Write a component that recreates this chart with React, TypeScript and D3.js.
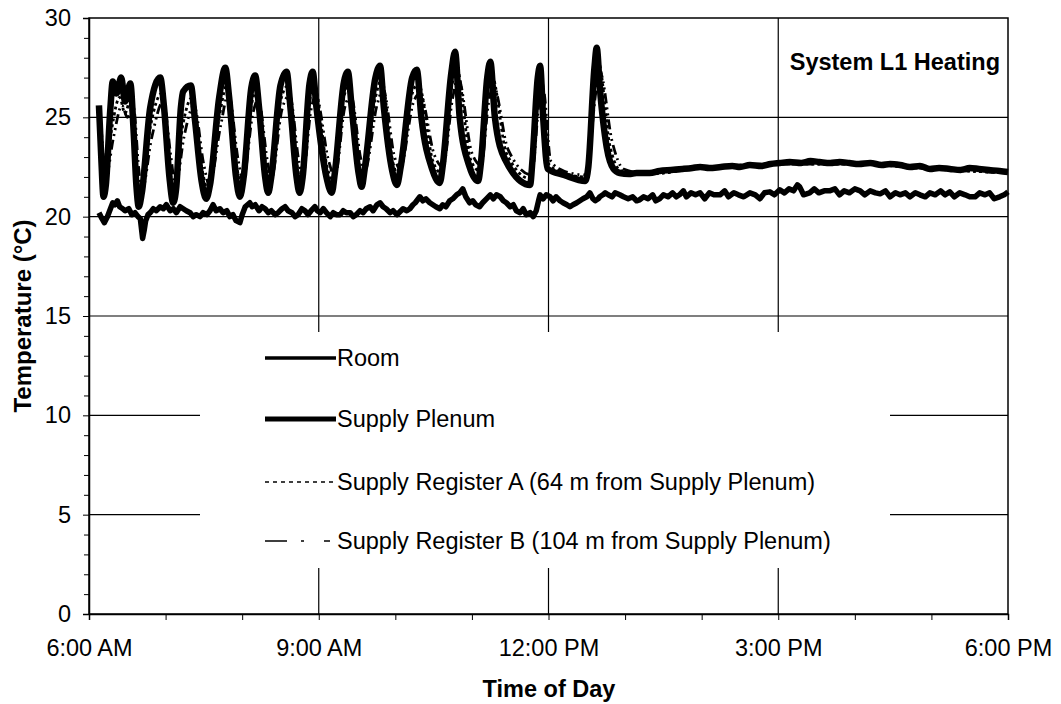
import React, { useEffect, useRef } from 'react';
import * as d3 from 'd3';

// time of day in decimal hours, temperature in °C
const plenum: [number, number][] = [
  [6.13, 25.6], [6.16, 23.0], [6.19, 21.0], [6.22, 21.6], [6.28, 25.5], [6.31, 26.8], [6.36, 26.2], [6.42, 27.0],
  [6.47, 25.8], [6.54, 26.7], [6.58, 24.5], [6.62, 21.5], [6.65, 20.5], [6.69, 21.2], [6.80, 25.5], [6.93, 27.0],
  [6.98, 25.5], [7.05, 22.0], [7.10, 20.7], [7.14, 21.5], [7.20, 25.5], [7.23, 26.3], [7.33, 26.6], [7.38, 25.0],
  [7.47, 21.8], [7.53, 20.9], [7.58, 21.6], [7.70, 26.0], [7.78, 27.5], [7.83, 26.0], [7.92, 22.0], [7.97, 21.0],
  [8.02, 22.0], [8.12, 26.5], [8.17, 27.1], [8.22, 25.5], [8.30, 22.0], [8.34, 21.2], [8.38, 22.0], [8.50, 26.6],
  [8.58, 27.3], [8.63, 25.5], [8.71, 22.0], [8.75, 21.2], [8.79, 22.0], [8.88, 26.7], [8.92, 27.3], [8.97, 25.5],
  [9.10, 22.0], [9.17, 21.2], [9.21, 22.2], [9.33, 26.8], [9.38, 27.3], [9.43, 25.5], [9.52, 22.2], [9.56, 21.5],
  [9.60, 22.4], [9.74, 27.0], [9.80, 27.6], [9.85, 25.5], [9.96, 22.3], [10.02, 21.6], [10.07, 22.5], [10.22, 27.0],
  [10.28, 27.4], [10.34, 25.0], [10.48, 22.4], [10.58, 21.7], [10.62, 22.6], [10.73, 27.2], [10.78, 28.3], [10.84, 25.0],
  [10.97, 22.5], [11.08, 21.8], [11.12, 22.8], [11.20, 27.0], [11.24, 27.8], [11.30, 25.0], [11.43, 22.9], [11.76, 21.6],
  [11.79, 22.8], [11.86, 27.0], [11.89, 27.6], [11.93, 25.0], [11.99, 22.4], [12.20, 22.1], [12.48, 21.8], [12.52, 22.5],
  [12.60, 27.5], [12.63, 28.5], [12.67, 26.5], [12.76, 23.5], [12.85, 22.4], [12.93, 22.2], [13.05, 22.15], [13.15, 22.2],
  [13.32, 22.2], [13.45, 22.3], [13.60, 22.35], [13.75, 22.4], [13.88, 22.45], [13.98, 22.5], [14.10, 22.45], [14.25, 22.5],
  [14.40, 22.55], [14.50, 22.5], [14.63, 22.6], [14.78, 22.55], [14.90, 22.65], [15.02, 22.7], [15.15, 22.75], [15.30, 22.7],
  [15.42, 22.8], [15.54, 22.75], [15.68, 22.7], [15.80, 22.75], [15.93, 22.7], [16.05, 22.65], [16.20, 22.7], [16.35, 22.6],
  [16.46, 22.65], [16.59, 22.6], [16.72, 22.5], [16.85, 22.55], [16.98, 22.4], [17.10, 22.45], [17.24, 22.4], [17.38, 22.35],
  [17.50, 22.45], [17.62, 22.4], [17.75, 22.35], [17.89, 22.3], [18.0, 22.25],
];

const registerA: [number, number][] = [
  [6.15, 25.0], [6.20, 21.6], [6.30, 24.5], [6.40, 26.0], [6.47, 25.2], [6.55, 26.0], [6.63, 22.0], [6.67, 21.0],
  [6.80, 24.5], [6.95, 26.2], [7.05, 22.6], [7.11, 21.2], [7.22, 24.5], [7.35, 26.0], [7.48, 22.3], [7.55, 21.4],
  [7.70, 25.0], [7.80, 26.6], [7.93, 22.5], [7.99, 21.5], [8.12, 25.6], [8.19, 26.4], [8.31, 22.5], [8.36, 21.6],
  [8.50, 25.8], [8.60, 26.6], [8.72, 22.5], [8.77, 21.7], [8.88, 25.8], [8.94, 26.6], [9.11, 22.5], [9.19, 21.7],
  [9.32, 25.9], [9.40, 26.6], [9.53, 22.6], [9.58, 22.0], [9.74, 26.0], [9.82, 26.9], [9.97, 22.7], [10.04, 22.1],
  [10.22, 26.2], [10.30, 26.7], [10.49, 22.8], [10.60, 22.2], [10.73, 26.4], [10.80, 27.5], [10.98, 22.9], [11.10, 22.3],
  [11.20, 26.2], [11.26, 27.1], [11.45, 23.2], [11.77, 21.9], [11.86, 26.2], [11.91, 26.9], [12.01, 22.6], [12.20, 22.2],
  [12.48, 22.0], [12.60, 26.8], [12.65, 27.8], [12.80, 23.6], [12.95, 22.3], [13.3, 22.15], [14.0, 22.45], [15.0, 22.65],
  [16.0, 22.65], [17.0, 22.4], [18.0, 22.2],
];

const registerB: [number, number][] = [
  [6.16, 24.5], [6.22, 22.0], [6.32, 24.0], [6.43, 25.6], [6.50, 25.0], [6.58, 25.5], [6.65, 22.4], [6.69, 21.3],
  [6.82, 24.0], [6.97, 25.8], [7.07, 23.0], [7.13, 21.5], [7.24, 24.0], [7.37, 25.6], [7.50, 22.6], [7.57, 21.6],
  [7.72, 24.6], [7.82, 26.2], [7.95, 22.8], [8.01, 21.8], [8.14, 25.2], [8.21, 25.9], [8.33, 22.8], [8.38, 21.9],
  [8.52, 25.4], [8.62, 26.1], [8.74, 22.8], [8.79, 22.0], [8.90, 25.4], [8.96, 26.1], [9.13, 22.8], [9.21, 22.0],
  [9.34, 25.5], [9.42, 26.1], [9.55, 22.9], [9.60, 22.3], [9.76, 25.6], [9.84, 26.4], [9.99, 23.0], [10.06, 22.4],
  [10.24, 25.8], [10.32, 26.2], [10.51, 23.1], [10.62, 22.5], [10.75, 26.0], [10.82, 27.0], [11.00, 23.2], [11.12, 22.6],
  [11.22, 25.8], [11.28, 26.6], [11.47, 23.4], [11.78, 22.1], [11.88, 25.8], [11.93, 26.4], [12.03, 22.8], [12.20, 22.3],
  [12.49, 22.1], [12.62, 26.3], [12.67, 27.3], [12.83, 23.8], [12.98, 22.4], [13.3, 22.15], [14.0, 22.45], [15.0, 22.65],
  [16.0, 22.65], [17.0, 22.4], [18.0, 22.2],
];

const room: [number, number][] = [
  [6.13, 20.2], [6.17, 19.9], [6.20, 19.7], [6.24, 20.0], [6.27, 20.3], [6.31, 20.7], [6.34, 20.6], [6.37, 20.8],
  [6.40, 20.5], [6.44, 20.4], [6.47, 20.3], [6.52, 20.4], [6.56, 20.1], [6.60, 20.2], [6.64, 20.0], [6.67, 19.9],
  [6.70, 18.9], [6.72, 19.3], [6.74, 19.8], [6.77, 20.1], [6.80, 20.2], [6.84, 20.4], [6.88, 20.3], [6.93, 20.5],
  [6.97, 20.4], [7.01, 20.6], [7.06, 20.3], [7.10, 20.4], [7.14, 20.2], [7.19, 20.5], [7.23, 20.4], [7.27, 20.3],
  [7.32, 20.2], [7.36, 20.0], [7.40, 20.1], [7.45, 20.0], [7.49, 20.2], [7.54, 20.1], [7.58, 20.3], [7.62, 20.6],
  [7.66, 20.3], [7.71, 20.4], [7.75, 20.2], [7.80, 20.3], [7.84, 20.0], [7.88, 20.1], [7.92, 19.8], [7.97, 19.7],
  [8.00, 20.1], [8.04, 20.5], [8.10, 20.7], [8.13, 20.5], [8.17, 20.6], [8.22, 20.3], [8.26, 20.5], [8.30, 20.4],
  [8.34, 20.2], [8.38, 20.3], [8.43, 20.1], [8.47, 20.2], [8.52, 20.4], [8.56, 20.5], [8.60, 20.3], [8.65, 20.2],
  [8.69, 20.0], [8.73, 20.1], [8.78, 20.4], [8.82, 20.3], [8.86, 20.1], [8.90, 20.3], [8.95, 20.5], [8.98, 20.3],
  [9.02, 20.2], [9.06, 20.4], [9.10, 20.2], [9.15, 20.0], [9.19, 20.2], [9.23, 20.1], [9.28, 20.1], [9.32, 20.3],
  [9.36, 20.2], [9.41, 20.2], [9.45, 20.0], [9.49, 20.1], [9.54, 20.3], [9.58, 20.2], [9.62, 20.4], [9.67, 20.5],
  [9.71, 20.3], [9.76, 20.6], [9.80, 20.7], [9.84, 20.5], [9.88, 20.4], [9.93, 20.2], [9.97, 20.3], [10.02, 20.1],
  [10.06, 20.25], [10.10, 20.4], [10.15, 20.3], [10.19, 20.4], [10.23, 20.6], [10.26, 20.7], [10.30, 20.9], [10.32, 21.0],
  [10.36, 20.8], [10.40, 20.9], [10.45, 20.7], [10.49, 20.6], [10.53, 20.5], [10.58, 20.4], [10.62, 20.6], [10.66, 20.5],
  [10.71, 20.8], [10.75, 20.9], [10.80, 21.1], [10.84, 21.2], [10.88, 21.4], [10.92, 21.0], [10.97, 20.7], [11.01, 20.8],
  [11.05, 20.6], [11.10, 20.5], [11.14, 20.7], [11.19, 20.9], [11.24, 21.1], [11.28, 20.9], [11.32, 21.1], [11.37, 21.0],
  [11.41, 20.8], [11.45, 20.7], [11.50, 20.5], [11.54, 20.6], [11.58, 20.3], [11.63, 20.2], [11.67, 20.4], [11.71, 20.1],
  [11.76, 20.2], [11.80, 20.0], [11.84, 20.3], [11.87, 20.8], [11.89, 21.1], [11.93, 20.9], [11.97, 21.1], [12.02, 21.0],
  [12.06, 20.8], [12.10, 21.0], [12.15, 20.8], [12.19, 20.7], [12.24, 20.6], [12.28, 20.5], [12.32, 20.6], [12.37, 20.7],
  [12.41, 20.8], [12.45, 20.9], [12.50, 21.0], [12.54, 21.2], [12.58, 20.9], [12.61, 20.8], [12.65, 20.9], [12.67, 21.0],
  [12.71, 21.1], [12.74, 21.2], [12.78, 21.1], [12.83, 21.0], [12.87, 21.2], [12.93, 21.1], [12.98, 21.0], [13.04, 20.9],
  [13.10, 21.0], [13.15, 20.8], [13.19, 20.85], [13.24, 21.0], [13.30, 20.9], [13.36, 21.1], [13.40, 20.8], [13.45, 20.9],
  [13.50, 21.1], [13.56, 21.0], [13.62, 21.2], [13.67, 21.0], [13.71, 21.1], [13.76, 21.3], [13.80, 21.0], [13.86, 21.2],
  [13.92, 21.1], [13.98, 21.2], [14.04, 20.9], [14.10, 21.2], [14.16, 21.1], [14.24, 21.1], [14.30, 21.3], [14.35, 21.0],
  [14.42, 21.2], [14.48, 21.1], [14.55, 21.0], [14.63, 21.2], [14.70, 21.1], [14.76, 20.9], [14.82, 21.2], [14.89, 21.25],
  [14.95, 21.1], [15.02, 21.35], [15.08, 21.2], [15.14, 21.4], [15.20, 21.3], [15.25, 21.6], [15.28, 21.5], [15.33, 21.1],
  [15.41, 21.2], [15.47, 21.4], [15.53, 21.2], [15.60, 21.3], [15.67, 21.3], [15.74, 21.4], [15.80, 21.1], [15.86, 21.3],
  [15.93, 21.2], [16.00, 21.4], [16.07, 21.3], [16.13, 21.1], [16.20, 21.3], [16.27, 21.2], [16.33, 21.15], [16.40, 21.3],
  [16.46, 21.0], [16.53, 21.2], [16.59, 21.1], [16.66, 21.2], [16.72, 21.0], [16.79, 21.2], [16.85, 21.1], [16.92, 21.0],
  [16.98, 21.2], [17.05, 21.1], [17.12, 21.3], [17.18, 21.1], [17.24, 21.25], [17.30, 21.0], [17.37, 21.2], [17.44, 21.1],
  [17.50, 21.0], [17.57, 21.0], [17.63, 21.2], [17.70, 21.1], [17.76, 21.2], [17.82, 20.9], [17.89, 21.0], [17.95, 21.1],
  [18.0, 21.25],
];

const xTicks = [6, 9, 12, 15, 18];
const xTickLabels = ['6:00 AM', '9:00 AM', '12:00 PM', '3:00 PM', '6:00 PM'];
const yTicks = [0, 5, 10, 15, 20, 25, 30];
const legendLabels = [
  'Room',
  'Supply Plenum',
  'Supply Register A (64 m from Supply Plenum)',
  'Supply Register B (104 m from Supply Plenum)',
];

const FONT = '"Liberation Sans", Arial, Helvetica, sans-serif';

const App = () => {
  const svgRef = useRef<SVGSVGElement>(null);

  useEffect(() => {
    const width = 1061;
    const height = 704;
    const left = 89, right = 1008, top = 18, bottom = 614;

    const svg = d3.select(svgRef.current);
    svg.selectAll('*').remove();
    svg.attr('width', width).attr('height', height).attr('viewBox', [0, 0, width, height].join(' '));

    const x = d3.scaleLinear([6, 18], [left, right]);
    const y = d3.scaleLinear([0, 30], [bottom, top]);

    svg.append('rect').attr('width', width).attr('height', height).attr('fill', 'white');

    // grid lines
    svg.append('g')
      .selectAll('line')
      .data(yTicks.slice(1, -1))
      .join('line')
      .attr('x1', left).attr('x2', right)
      .attr('y1', d => y(d)).attr('y2', d => y(d))
      .attr('stroke', '#000').attr('stroke-width', 1.2);
    svg.append('g')
      .selectAll('line')
      .data(xTicks.slice(1, -1))
      .join('line')
      .attr('x1', d => x(d)).attr('x2', d => x(d))
      .attr('y1', top).attr('y2', bottom)
      .attr('stroke', '#000').attr('stroke-width', 1.2);

    // legend (white box hides the grid behind it)
    const legend = svg.append('g');
    legend.append('rect')
      .attr('x', 200).attr('y', 332).attr('width', 690).attr('height', 236)
      .attr('fill', 'white');
    const rowsY = [358, 419, 482, 541];
    const legendStyles = [
      { w: 3.5, dash: null },
      { w: 5, dash: null },
      { w: 1.6, dash: '4,4' },
      { w: 1.6, dash: '22,14,3,20,6' },
    ];
    legendLabels.forEach((label, i) => {
      const ln = legend.append('line')
        .attr('x1', 265).attr('x2', 336)
        .attr('y1', rowsY[i]).attr('y2', rowsY[i])
        .attr('stroke', '#000').attr('stroke-width', legendStyles[i].w);
      if (legendStyles[i].dash) ln.attr('stroke-dasharray', legendStyles[i].dash);
      legend.append('text')
        .attr('x', 337).attr('y', rowsY[i] + 8)
        .attr('font-family', FONT).attr('font-size', 23.5)
        .text(label);
    });

    // series
    const smooth = d3.line<[number, number]>()
      .x(d => x(d[0])).y(d => y(d[1]))
      .curve(d3.curveMonotoneX);
    const straight = d3.line<[number, number]>()
      .x(d => x(d[0])).y(d => y(d[1]));

    svg.append('path').attr('d', straight(room))
      .attr('fill', 'none').attr('stroke', '#000').attr('stroke-width', 5.5)
      .attr('stroke-linejoin', 'round');
    svg.append('path').attr('d', smooth(plenum))
      .attr('fill', 'none').attr('stroke', '#000').attr('stroke-width', 6.5)
      .attr('stroke-linejoin', 'round');
    svg.append('path').attr('d', smooth(registerB))
      .attr('fill', 'none').attr('stroke', '#000').attr('stroke-width', 2.8)
      .attr('stroke-dasharray', '10,4,2,4,2,4');
    svg.append('path').attr('d', smooth(registerA))
      .attr('fill', 'none').attr('stroke', '#000').attr('stroke-width', 2.8)
      .attr('stroke-dasharray', '3,3');

    // plot border
    svg.append('rect')
      .attr('x', left).attr('y', top)
      .attr('width', right - left).attr('height', bottom - top)
      .attr('fill', 'none').attr('stroke', '#000').attr('stroke-width', 1.5);

    // axes
    const yAxis = svg.append('g')
      .attr('transform', `translate(${left},0)`)
      .call(d3.axisLeft(y).tickValues(yTicks).tickSize(6).tickPadding(12).tickFormat(d3.format('d')));
    yAxis.select('.domain').attr('stroke-width', 1.5);
    yAxis.selectAll('text').attr('font-family', FONT).attr('font-size', 23.5).attr('fill', '#000');

    svg.append('g')
      .attr('transform', `translate(${left},0)`)
      .call(d3.axisLeft(y).tickValues(d3.range(1, 30).filter(v => v % 5 !== 0)).tickSize(5).tickFormat(() => ''))
      .call(g => g.select('.domain').remove());

    const xAxis = svg.append('g')
      .attr('transform', `translate(0,${bottom})`)
      .call(d3.axisBottom(x).tickValues(xTicks).tickSize(6).tickPadding(19)
        .tickFormat((d, i) => xTickLabels[i]));
    xAxis.select('.domain').attr('stroke-width', 1.5);
    xAxis.selectAll('text').attr('font-family', FONT).attr('font-size', 23.5).attr('fill', '#000');

    svg.append('g')
      .attr('transform', `translate(0,${bottom})`)
      .call(d3.axisBottom(x).tickValues(d3.range(7, 18).filter(v => v % 3 !== 0)).tickSize(6).tickFormat(() => ''))
      .call(g => g.select('.domain').remove());

    // titles
    svg.append('text')
      .attr('x', 1000).attr('y', 70)
      .attr('text-anchor', 'end')
      .attr('font-family', FONT).attr('font-size', 23.5).attr('font-weight', 'bold')
      .text('System L1 Heating');

    svg.append('text')
      .attr('x', 549).attr('y', 697)
      .attr('text-anchor', 'middle')
      .attr('font-family', FONT).attr('font-size', 23.5).attr('font-weight', 'bold')
      .text('Time of Day');

    svg.append('text')
      .attr('transform', `translate(31,${(top + bottom) / 2}) rotate(-90)`)
      .attr('text-anchor', 'middle')
      .attr('font-family', FONT).attr('font-size', 24).attr('font-weight', 'bold')
      .text('Temperature (°C)');
  }, []);

  return (
    <svg ref={svgRef} style={{ position: 'absolute', left: 0, top: 0, display: 'block' }} />
  );
};

export default App;
